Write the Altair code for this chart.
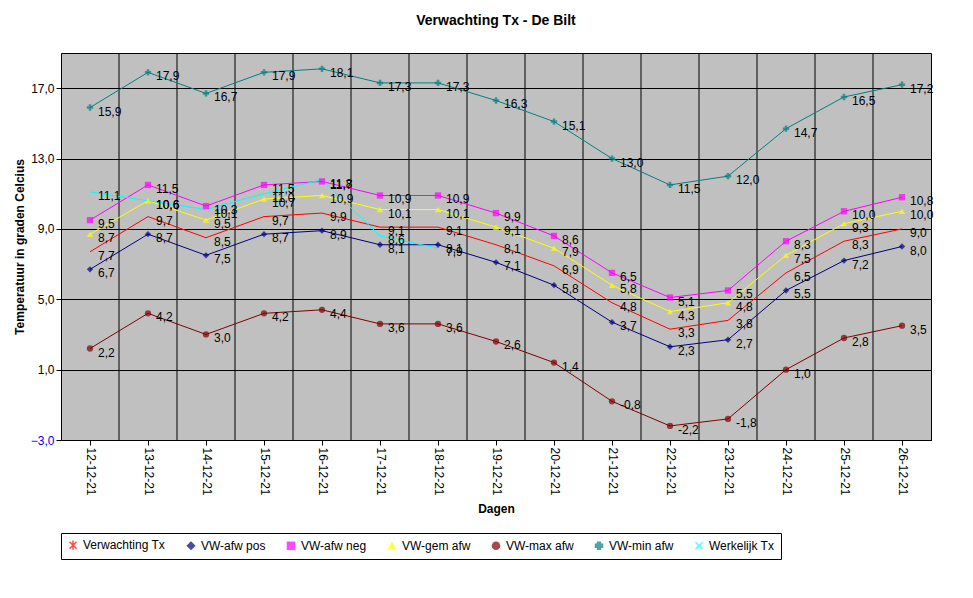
import altair as alt
import pandas as pd

dates = ["12-12-21","13-12-21","14-12-21","15-12-21","16-12-21","17-12-21","18-12-21",
         "19-12-21","20-12-21","21-12-21","22-12-21","23-12-21","24-12-21","25-12-21","26-12-21"]
verw = [7.7,9.7,8.5,9.7,9.9,9.1,9.1,8.1,6.9,4.8,3.3,3.8,6.5,8.3,9.0]
afw_pos = [6.7,8.7,7.5,8.7,8.9,8.1,8.1,7.1,5.8,3.7,2.3,2.7,5.5,7.2,8.0]
afw_neg = [9.5,11.5,10.3,11.5,11.7,10.9,10.9,9.9,8.6,6.5,5.1,5.5,8.3,10.0,10.8]
gem_afw = [8.7,10.6,9.5,10.7,10.9,10.1,10.1,9.1,7.9,5.8,4.3,4.8,7.5,9.3,10.0]
max_afw = [2.2,4.2,3.0,4.2,4.4,3.6,3.6,2.6,1.4,-0.8,-2.2,-1.8,1.0,2.8,3.5]
min_afw = [15.9,17.9,16.7,17.9,18.1,17.3,17.3,16.3,15.1,13.0,11.5,12.0,14.7,16.5,17.2]
werk = [11.1,10.6,10.1,11.0,11.8,8.6,7.9]

names = ["Verwachting Tx","VW-afw pos","VW-afw neg","VW-gem afw","VW-max afw","VW-min afw","Werkelijk Tx"]
colors = ["#FF0000","#000080","#FF00FF","#FFFF00","#800000","#008080","#00FFFF"]
shapes = ["M-1,-1L1,1M-1,1L1,-1M0,-1.3L0,1.3","diamond","square","triangle-up","circle","cross","M-1,-1L1,1M-1,1L1,-1"]
series = [verw,afw_pos,afw_neg,gem_afw,max_afw,min_afw,werk]

rows = []
for n, vals in zip(names, series):
    for i, v in enumerate(vals):
        rows.append({"s": n, "i": i, "v": v, "lbl": f"{v:.1f}".replace(".", ",")})
df = pd.DataFrame(rows)
grid = pd.DataFrame({"g": [i + 0.5 for i in range(len(dates) - 1)]})

labexpr = "[" + ",".join(f"'{d}'" for d in dates) + "][datum.value]"
x = alt.X("i:Q", scale=alt.Scale(domain=[-0.5, len(dates) - 0.5], nice=False),
          axis=alt.Axis(values=list(range(len(dates))), labelExpr=labexpr, labelAngle=90,
                        labelAlign="left", labelBaseline="middle", grid=False, title="Dagen",
                        titleFontWeight="bold", titleFontSize=12, labelFontSize=12,
                        labelColor="black", domainColor="black", tickColor="black", titlePadding=8,
                        labelOverlap=False))
y = alt.Y("v:Q", scale=alt.Scale(domain=[-3, 19], nice=False),
          axis=alt.Axis(values=list(range(-3, 20)), labelExpr="replace(format(datum.value,'.1f'),'.',',')",
                        labelColor={"condition": {"test": "datum.value < 0", "value": "#0000FF"}, "value": "black"},
                        gridColor="black", gridOpacity=1, title="Temperatuur in graden Celcius",
                        titleFontWeight="bold", titleFontSize=12, labelFontSize=12,
                        domainColor="black", tickColor="black", labelOverlap=False, labelFlush=False))

leg = alt.Legend(orient="bottom", title=None, columns=7, strokeColor="black",
                 padding=6, labelFontSize=12, symbolSize=50, columnPadding=18,
                 symbolStrokeWidth=1.5, offset=18)
col = alt.Color("s:N", scale=alt.Scale(domain=names, range=colors), sort=names, legend=leg)
shp = alt.Shape("s:N", scale=alt.Scale(domain=names, range=shapes), sort=names, legend=leg)

base = alt.Chart(df)
rules = alt.Chart(grid).mark_rule(color="black", strokeWidth=1).encode(x=alt.X("g:Q"))
lines = base.mark_line(strokeWidth=1).encode(x=x, y=y, color=col, detail="s:N")
pts = base.mark_point(filled=True, size=40, strokeWidth=1.5).encode(x="i:Q", y="v:Q", color=col, shape=shp)
txt = base.mark_text(align="left", dx=8, dy=4, fontSize=12, color="black").encode(x="i:Q", y="v:Q", text="lbl:N")

chart = alt.layer(rules, lines, pts, txt).properties(
    width=870, height=387,
    title=alt.Title("Verwachting Tx - De Bilt", fontSize=14, fontWeight="bold", offset=25),
    background="white"
).configure(font="Liberation Sans").configure_view(fill="#C0C0C0", stroke="black")

chart.save("out.html", embed_options={"renderer": "svg", "actions": False})
